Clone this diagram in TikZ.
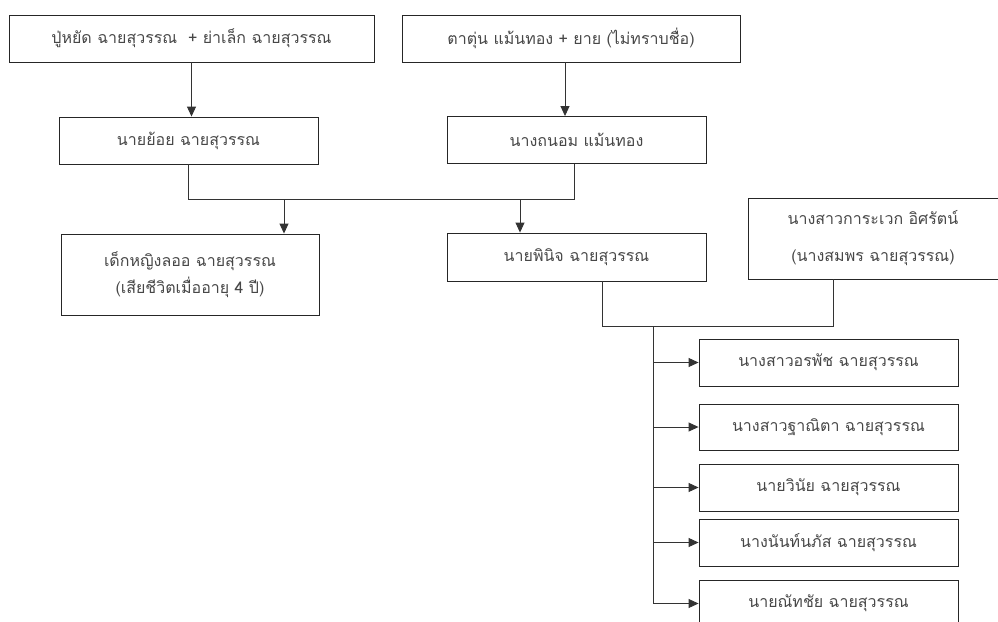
\documentclass[tikz,border=0pt]{standalone}
\usepackage{fontspec}
\setmainfont{Loma}[Script=Thai]
\usetikzlibrary{arrows.meta}

\begin{document}
\begin{tikzpicture}[
            x=1pt, y=-1pt,
            person/.style={draw=black!85, line width=0.9pt, rectangle,
                inner sep=0pt, minimum height=47pt, text=black!72,
                align=center, font=\fontsize{16}{27}\selectfont},
            child box/.style={person, minimum width=259pt},
            link/.style={draw=black!80, line width=0.9pt},
            arr/.style={link, -{Triangle[length=10pt, width=9pt]}}
        ]
        \useasboundingbox (0,0) rectangle (998,621);
        \clip (0,0) rectangle (998,621);

        % grandparents
        \node[person, minimum width=365pt] (yadlek) at (191.5,38.5) {ปู่หยัด ฉายสุวรรณ\ \ + ย่าเล็ก ฉายสุวรรณ};
        \node[person, minimum width=338pt] (tun) at (571,38.5) {ตาตุ่น แม้นทอง + ยาย (ไม่ทราบชื่อ)};

        % parents
        \node[person, minimum width=259pt] (yoy) at (188.5,140.5) {นายย้อย ฉายสุวรรณ};
        \node[person, minimum width=259pt] (thanom) at (576.5,140) {นางถนอม แม้นทอง};

        \draw[arr] (yadlek.south) -- (yadlek.south |- yoy.north);
        \draw[arr] ([xshift=-6pt]tun.south) -- ([xshift=-6pt]tun.south |- thanom.north);

        % children of yoy and thanom
        \node[person, minimum width=258pt, minimum height=81pt] (laor) at (190,274.5) {เด็กหญิงลออ ฉายสุวรรณ\\(เสียชีวิตเมื่ออายุ 4 ปี)};
        \node[person, minimum width=259pt, minimum height=48pt] (phinit) at (576.5,257) {นายพินิจ ฉายสุวรรณ};
        \node[person, minimum width=250pt, minimum height=81pt] (karawek) at (873,238.5) {นางสาวการะเวก อิศรัตน์\\[10pt](นางสมพร ฉายสุวรรณ)};

        \coordinate (m1) at (188.5,199);
        \coordinate (m2) at (574,199);
        \draw[link] (yoy.south) -- (m1) -- (m2) -- (m2 |- thanom.south);
        \coordinate (d1) at (284,199);
        \coordinate (d2) at (520,199);
        \draw[arr] (d1) -- (d1 |- laor.north);
        \draw[arr] (d2) -- (d2 |- phinit.north);

        % marriage of phinit and karawek
        \coordinate (m3) at (602,326);
        \coordinate (m4) at (833,326);
        \draw[link] (m3 |- phinit.south) -- (m3) -- (m4) -- (m4 |- karawek.south);

        % grandchildren
        \node[child box] (orapat) at (828.5,362.5) {นางสาวอรพัช ฉายสุวรรณ};
        \node[child box, minimum height=46pt] (thanita) at (828.5,427) {นางสาวฐาณิตา ฉายสุวรรณ};
        \node[child box] (winai) at (828.5,487.5) {นายวินัย ฉายสุวรรณ};
        \node[child box] (nanpas) at (828.5,542.5) {นางนันท์นภัส ฉายสุวรรณ};
        \node[child box] (natchai) at (828.5,603.5) {นายณัทชัย ฉายสุวรรณ};

        \coordinate (trunk) at (653,326);
        \draw[link] (trunk) -- (trunk |- natchai);
        \draw[arr] (trunk |- orapat) -- (orapat.west);
        \draw[arr] (trunk |- thanita) -- (thanita.west);
        \draw[arr] (trunk |- winai) -- (winai.west);
        \draw[arr] (trunk |- nanpas) -- (nanpas.west);
        \draw[arr] (trunk |- natchai) -- (natchai.west);
    \end{tikzpicture}
\end{document}
